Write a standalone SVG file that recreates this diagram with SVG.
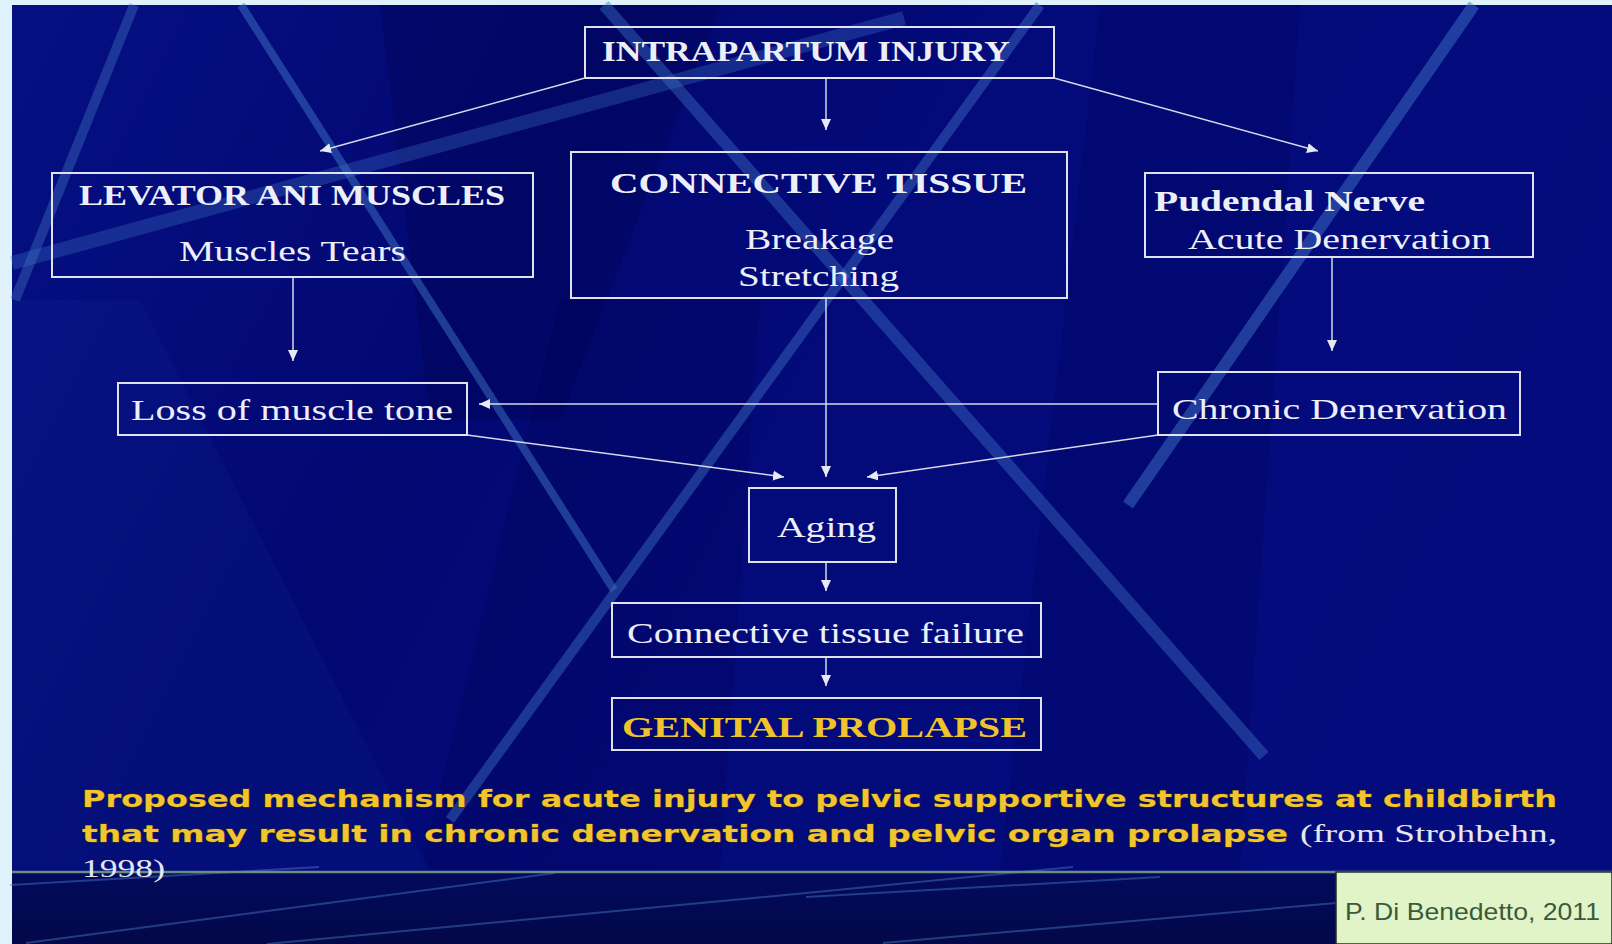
<svg xmlns="http://www.w3.org/2000/svg" width="1612" height="944" viewBox="0 0 1612 944">
<defs>
<linearGradient id="bg" x1="0" y1="0" x2="1" y2="0.3">
<stop offset="0" stop-color="#061083"/>
<stop offset="0.35" stop-color="#020872"/>
<stop offset="0.6" stop-color="#030a7a"/>
<stop offset="1" stop-color="#040b7c"/>
</linearGradient>
<linearGradient id="bot" x1="0" y1="0" x2="0" y2="1">
<stop offset="0" stop-color="#030a5c"/>
<stop offset="1" stop-color="#020848"/>
</linearGradient>
<marker id="ah" markerUnits="userSpaceOnUse" markerWidth="12" markerHeight="10" refX="11" refY="5" orient="auto">
<path d="M0,0 L11,5 L0,10 z" fill="#e6e8f2"/>
</marker>
<style>
.box{fill:none;stroke:#dfe1ec;stroke-width:2}
.con{fill:none;stroke:#d6d9e8;stroke-width:1.5;marker-end:url(#ah)}
.t{font-family:"Liberation Serif","Times New Roman",serif;fill:#eceef8;font-size:30px}
.b{font-weight:bold}
.yel{fill:#f0c22c}
.cap{font-family:"DejaVu Sans",Verdana,sans-serif;font-weight:bold;font-size:23px;fill:#f2c430;stroke:#4a3a00;stroke-width:0.8;paint-order:stroke}
.src{font-family:"Liberation Serif","Times New Roman",serif;font-size:26px;fill:#e4e6f0}
.stripe{stroke:#3e72c4;stroke-linecap:butt;fill:none}
.streak{stroke:#4a7cc8;stroke-width:2;fill:none;opacity:0.45}
</style>
</defs>

<!-- background -->
<rect x="0" y="0" width="1612" height="944" fill="#dff2fb"/>
<rect x="12" y="5" width="1600" height="939" fill="url(#bg)"/>
<polygon points="380,5 720,5 560,420 430,420" fill="#000040" opacity="0.25"/>
<polygon points="560,300 760,300 720,870 420,870" fill="#000040" opacity="0.18"/>
<polygon points="12,300 140,300 430,870 12,870" fill="#1a3aa8" opacity="0.12"/>
<polygon points="1100,5 1300,5 1240,870 1000,870" fill="#000040" opacity="0.15"/>
<rect x="12" y="872" width="1600" height="72" fill="url(#bot)"/>

<line class="stripe" x1="134" y1="5" x2="15" y2="300" stroke-width="10" opacity="0.4"/>
<line class="stripe" x1="241" y1="5" x2="614" y2="590" stroke-width="8" opacity="0.5"/>
<line class="stripe" x1="12" y1="263" x2="904" y2="18" stroke-width="14" opacity="0.32"/>
<line class="stripe" x1="604" y1="5" x2="1264" y2="756" stroke-width="12" opacity="0.42"/>
<line class="stripe" x1="1040" y1="5" x2="450" y2="820" stroke-width="10" opacity="0.45"/>
<line class="stripe" x1="1474" y1="5" x2="1128" y2="505" stroke-width="12" opacity="0.5"/>

<line class="streak" x1="10" y1="885" x2="319" y2="867"/>
<line class="streak" x1="26" y1="943" x2="555" y2="873"/>
<line class="streak" x1="267" y1="944" x2="806" y2="893"/>
<line class="streak" x1="806" y1="893" x2="1073" y2="867"/>
<line class="streak" x1="806" y1="897" x2="1160" y2="877"/>
<line class="streak" x1="883" y1="943" x2="1336" y2="903"/>
<line x1="12" y1="872" x2="1612" y2="872" stroke="#6b8c86" stroke-width="2.5"/>

<!-- connectors -->
<g id="connectors">
<line class="con" x1="585" y1="78" x2="320" y2="151"/>
<line class="con" x1="826" y1="78" x2="826" y2="130"/>
<line class="con" x1="1054" y1="78" x2="1318" y2="151"/>
<line class="con" x1="293" y1="277" x2="293" y2="361"/>
<line class="con" x1="1332" y1="257" x2="1332" y2="351"/>
<line class="con" x1="1158" y1="404" x2="479" y2="404"/>
<line class="con" x1="467" y1="435" x2="784" y2="477"/>
<line class="con" x1="826" y1="298" x2="826" y2="477"/>
<line class="con" x1="1158" y1="435" x2="867" y2="477"/>
<line class="con" x1="826" y1="562" x2="826" y2="591"/>
<line class="con" x1="826" y1="657" x2="826" y2="686"/>
</g>

<!-- nodes -->
<g id="intrapartum">
<rect class="box" x="585" y="27" width="469" height="51"/>
<text class="t b" x="602" y="61" font-size="27" textLength="408" lengthAdjust="spacingAndGlyphs">INTRAPARTUM INJURY</text>
</g>
<g id="levator">
<rect class="box" x="52" y="173" width="481" height="104"/>
<text class="t b" x="79" y="205" font-size="26" textLength="426" lengthAdjust="spacingAndGlyphs">LEVATOR ANI MUSCLES</text>
<text class="t" x="179" y="261" textLength="227" lengthAdjust="spacingAndGlyphs">Muscles Tears</text>
</g>
<g id="connective">
<rect class="box" x="571" y="152" width="496" height="146"/>
<text class="t b" x="610" y="193" font-size="31" textLength="417" lengthAdjust="spacingAndGlyphs">CONNECTIVE TISSUE</text>
<text class="t" x="745" y="249" textLength="149" lengthAdjust="spacingAndGlyphs">Breakage</text>
<text class="t" x="738" y="286" textLength="161" lengthAdjust="spacingAndGlyphs">Stretching</text>
</g>
<g id="pudendal">
<rect class="box" x="1145" y="173" width="388" height="84"/>
<text class="t b" x="1154" y="211" textLength="271" lengthAdjust="spacingAndGlyphs">Pudendal Nerve</text>
<text class="t" x="1188" y="249" textLength="303" lengthAdjust="spacingAndGlyphs">Acute Denervation</text>
</g>
<g id="loss">
<rect class="box" x="118" y="383" width="349" height="52"/>
<text class="t" x="131" y="420" textLength="322" lengthAdjust="spacingAndGlyphs">Loss of muscle tone</text>
</g>
<g id="chronic">
<rect class="box" x="1158" y="372" width="362" height="63"/>
<text class="t" x="1172" y="419" textLength="335" lengthAdjust="spacingAndGlyphs">Chronic Denervation</text>
</g>
<g id="aging">
<rect class="box" x="749" y="488" width="147" height="74"/>
<text class="t" x="777" y="537" textLength="99" lengthAdjust="spacingAndGlyphs">Aging</text>
</g>
<g id="failure">
<rect class="box" x="612" y="603" width="429" height="54"/>
<text class="t" x="627" y="643" textLength="397" lengthAdjust="spacingAndGlyphs">Connective tissue failure</text>
</g>
<g id="prolapse">
<rect class="box" x="612" y="698" width="429" height="52"/>
<text class="t b yel" x="622" y="737" textLength="405" lengthAdjust="spacingAndGlyphs">GENITAL PROLAPSE</text>
</g>

<!-- caption -->
<g id="caption">
<text class="cap" x="82" y="807" textLength="1475" lengthAdjust="spacingAndGlyphs">Proposed mechanism for acute injury to pelvic supportive structures at childbirth</text>
<text class="cap" x="82" y="842" textLength="1206" lengthAdjust="spacingAndGlyphs">that may result in chronic denervation and pelvic organ prolapse</text>
<text class="src" x="1300" y="842" textLength="257" lengthAdjust="spacingAndGlyphs">(from Strohbehn,</text>
<text class="src" x="82" y="877" textLength="83" lengthAdjust="spacingAndGlyphs">1998)</text>
</g>

<g id="credit">
<rect x="1336" y="872" width="276" height="72" fill="#e1f4c7" stroke="#1e2e22" stroke-width="1.5"/>
<text x="1345" y="920" font-family="'Liberation Sans Narrow','Liberation Sans',Arial,sans-serif" font-size="24" fill="#3a5a3c" textLength="255" lengthAdjust="spacingAndGlyphs">P. Di Benedetto, 2011</text>
</g>
</svg>
